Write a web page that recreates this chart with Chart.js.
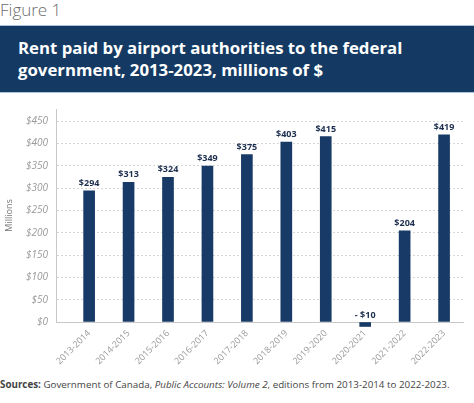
<!DOCTYPE html>
<html>
<head>
<meta charset="utf-8">
<script src="https://cdn.jsdelivr.net/npm/chart.js@4"></script>
<style>
  body { margin: 0; width: 474px; height: 403px; background: #fff; position: relative; overflow: hidden; font-family: "Open Sans", sans-serif; }
  #fig { position: absolute; left: 0; top: -2px; font-size: 17px; color: #6b6b6b; font-weight: 300; }
  #banner { position: absolute; left: 0; top: 25px; width: 474px; height: 66px; background: #143a63;
            border-top: 1px solid #a9c3dc; border-bottom: 1px solid #a9c3dc; }
  #banner div { position: absolute; left: 18px; top: 11px; color: #fff; font-weight: 700; font-size: 16.8px; line-height: 22px; }
  #wrap { position: absolute; left: 0; top: 95px; width: 474px; height: 280px; }
  #src { position: absolute; left: 0; top: 378px; font-size: 9.8px; color: #444; white-space: nowrap; }
</style>
</head>
<body>
<div id="fig">Figure 1</div>
<div id="banner"><div>Rent paid by airport authorities to the federal<br>government, 2013-2023, millions of $</div></div>
<div id="wrap"><canvas id="chart1"></canvas></div>
<div id="src"><b>Sources:</b> Government of Canada, <i>Public Accounts: Volume 2</i>, editions from 2013-2014 to 2022-2023.</div>
<script>
const years = ['2013-2014', '2014-2015', '2015-2016', '2016-2017', '2017-2018',
               '2018-2019', '2019-2020', '2020-2021', '2021-2022', '2022-2023'];
const rent = [294, 313, 324, 349, 375, 403, 415, -10, 204, 419];
const yTicks = [0, 50, 100, 150, 200, 250, 300, 350, 400, 450];

// value labels above each bar
const barLabels = {
  id: 'barLabels',
  afterDatasetsDraw(chart) {
    const ctx = chart.ctx;
    const meta = chart.getDatasetMeta(0);
    ctx.save();
    ctx.font = 'bold 9px "Open Sans"';
    ctx.fillStyle = '#1d2f4f';
    ctx.textAlign = 'center';
    ctx.textBaseline = 'bottom';
    meta.data.forEach((bar, i) => {
      const v = rent[i];
      const txt = v < 0 ? '- $' + Math.abs(v) : '$' + v;
      ctx.fillText(txt, bar.x, Math.min(bar.y, bar.base) - 3);
    });
    ctx.restore();
  }
};

new Chart('chart1', {
  type: 'bar',
  data: {
    datasets: [{
      data: rent.map((v, i) => ({ x: i, y: v })),
      backgroundColor: '#173a66',
      barThickness: 11,
      clip: false
    }]
  },
  options: {
    responsive: true,
    maintainAspectRatio: false,
    animation: false,
    layout: { padding: { top: 12, right: 11, left: 0, bottom: 0 } },
    plugins: { legend: { display: false }, tooltip: { enabled: false } },
    scales: {
      x: {
        type: 'linear',
        offset: false,
        min: -0.84,
        max: 9.48,
        afterBuildTicks: s => { s.ticks = years.map((_, i) => ({ value: i })); },
        afterFit: s => { s.height = 53; },
        grid: { display: false, drawTicks: false },
        border: { color: '#c8c8c8', width: 1 },
        ticks: {
          callback: v => years[v],
          minRotation: 45, maxRotation: 45, padding: 6,
          color: '#9a9a9a', font: { family: 'Open Sans', size: 9 }
        }
      },
      y: {
        min: 0,
        max: 477,
        afterBuildTicks: s => { s.ticks = yTicks.map(v => ({ value: v })); },
        afterFit: s => { s.width = 56; },
        grid: { color: '#d6d6d6', drawTicks: false },
        border: { color: '#c8c8c8', width: 1, dash: [2, 2] },
        ticks: {
          callback: v => '$' + v,
          padding: 8,
          color: '#9a9a9a', font: { family: 'Open Sans', size: 10, style: 'italic' }
        },
        title: { display: true, text: 'Millions', color: '#777', font: { family: 'Open Sans', size: 9 }, padding: { top: 4, bottom: 0 } }
      }
    }
  },
  plugins: [barLabels]
});
</script>
</body>
</html>
